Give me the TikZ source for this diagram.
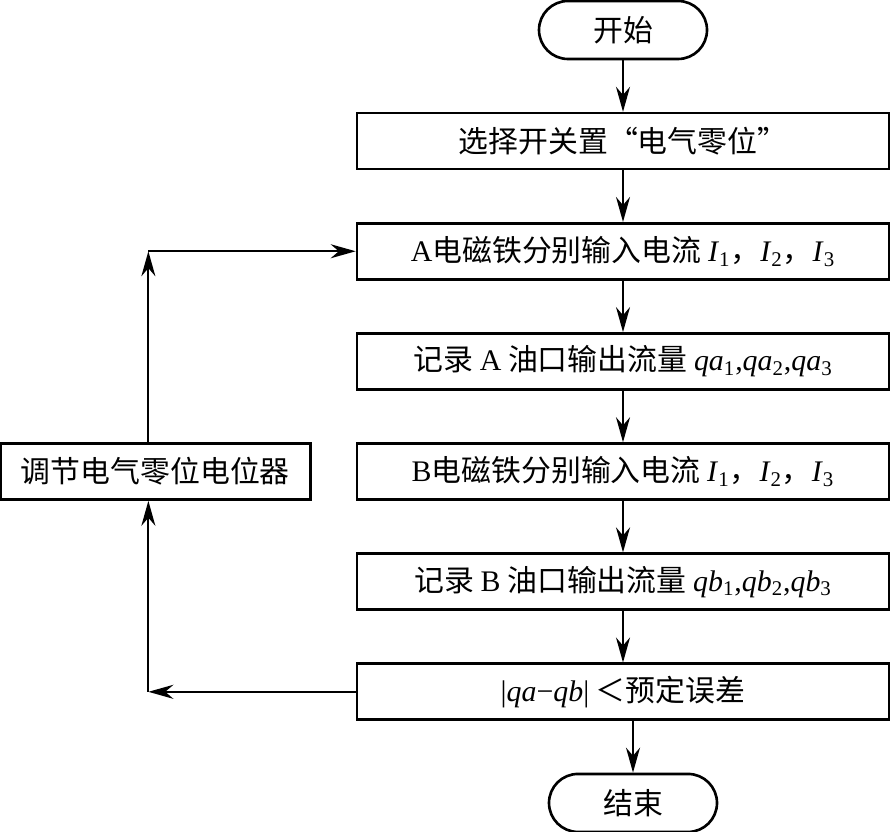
\documentclass[tikz,border=0pt]{standalone}
\usepackage{fontspec}
\setmainfont{Liberation Serif}
\newfontfamily\cjk{Noto Sans CJK SC}
\usepackage{tikz}
\usetikzlibrary{arrows.meta, positioning}

\newcommand{\en}[1]{{\rmfamily #1}}
\newcommand{\vsub}[2]{{\rmfamily\textit{#1}\textsubscript{#2}}}

\begin{document}
\begin{tikzpicture}[
      node distance=1.03cm,
      box/.style={
          draw,
          minimum width=10.64cm,
          minimum height=1.12cm,
          align=center,
          font=\cjk\fontsize{17}{20}\selectfont,
          line width=1.5pt
      },
      terminal/.style={
          box,
          rounded corners=0.58cm,
          minimum width=3.36cm,
          minimum height=1.16cm
      },
      arrow/.style={-{Stealth[length=0.5cm, width=0.28cm]}, line width=1.2pt}
  ]

  \useasboundingbox (0,0) rectangle (17.84,-16.64);

  % ══════════════════════════════
  % COLONNE PRINCIPALE
  % ══════════════════════════════
  \node[terminal] (start) at (12.46,-0.6) {开始};

  \node[box, below=of start] (b1)
      {选择开关置“电气零位”};

  \node[box, below=of b1] (b2)
      {\en{A}电磁铁分别输入电流 \vsub{I}{1}，\vsub{I}{2}，\vsub{I}{3}};

  \node[box, below=of b2] (b3)
      {记录 \en{A} 油口输出流量 \vsub{qa}{1}\en{,}\vsub{qa}{2}\en{,}\vsub{qa}{3}};

  \node[box, below=of b3] (b4)
      {\en{B}电磁铁分别输入电流 \vsub{I}{1}，\vsub{I}{2}，\vsub{I}{3}};

  \node[box, below=of b4] (b5)
      {记录 \en{B} 油口输出流量 \vsub{qb}{1}\en{,}\vsub{qb}{2}\en{,}\vsub{qb}{3}};

  \node[box, below=of b5] (b6)
      {\en{|\textit{qa}−\textit{qb}|} ＜预定误差};

  \node[terminal, below=of b6, xshift=0.2cm] (stop) {结束};

  % ══════════════════════════════
  % BOUCLE DE RÉGLAGE
  % ══════════════════════════════
  \node[box, minimum width=6.2cm, left=0.88cm of b4] (adjust)
      {调节电气零位电位器};

  \coordinate (ctop) at ([xshift=-0.14cm]adjust.north |- b2.west);
  \coordinate (cbot) at ([xshift=-0.14cm]adjust.south |- b6.west);

  % ══════════════════════════════
  % FLÈCHES
  % ══════════════════════════════
  \draw[arrow] (start) -- (b1);
  \draw[arrow] (b1) -- (b2);
  \draw[arrow] (b2) -- (b3);
  \draw[arrow] (b3) -- (b4);
  \draw[arrow] (b4) -- (b5);
  \draw[arrow] (b5) -- (b6);
  \draw[arrow] (b6.south -| stop) -- (stop);

  \draw[arrow] (b6.west) -- (cbot);
  \draw[arrow] (cbot) -- (cbot |- adjust.south);
  \draw[arrow] (ctop |- adjust.north) -- (ctop);
  \draw[arrow] (ctop) -- (b2.west);

\end{tikzpicture}
\end{document}
